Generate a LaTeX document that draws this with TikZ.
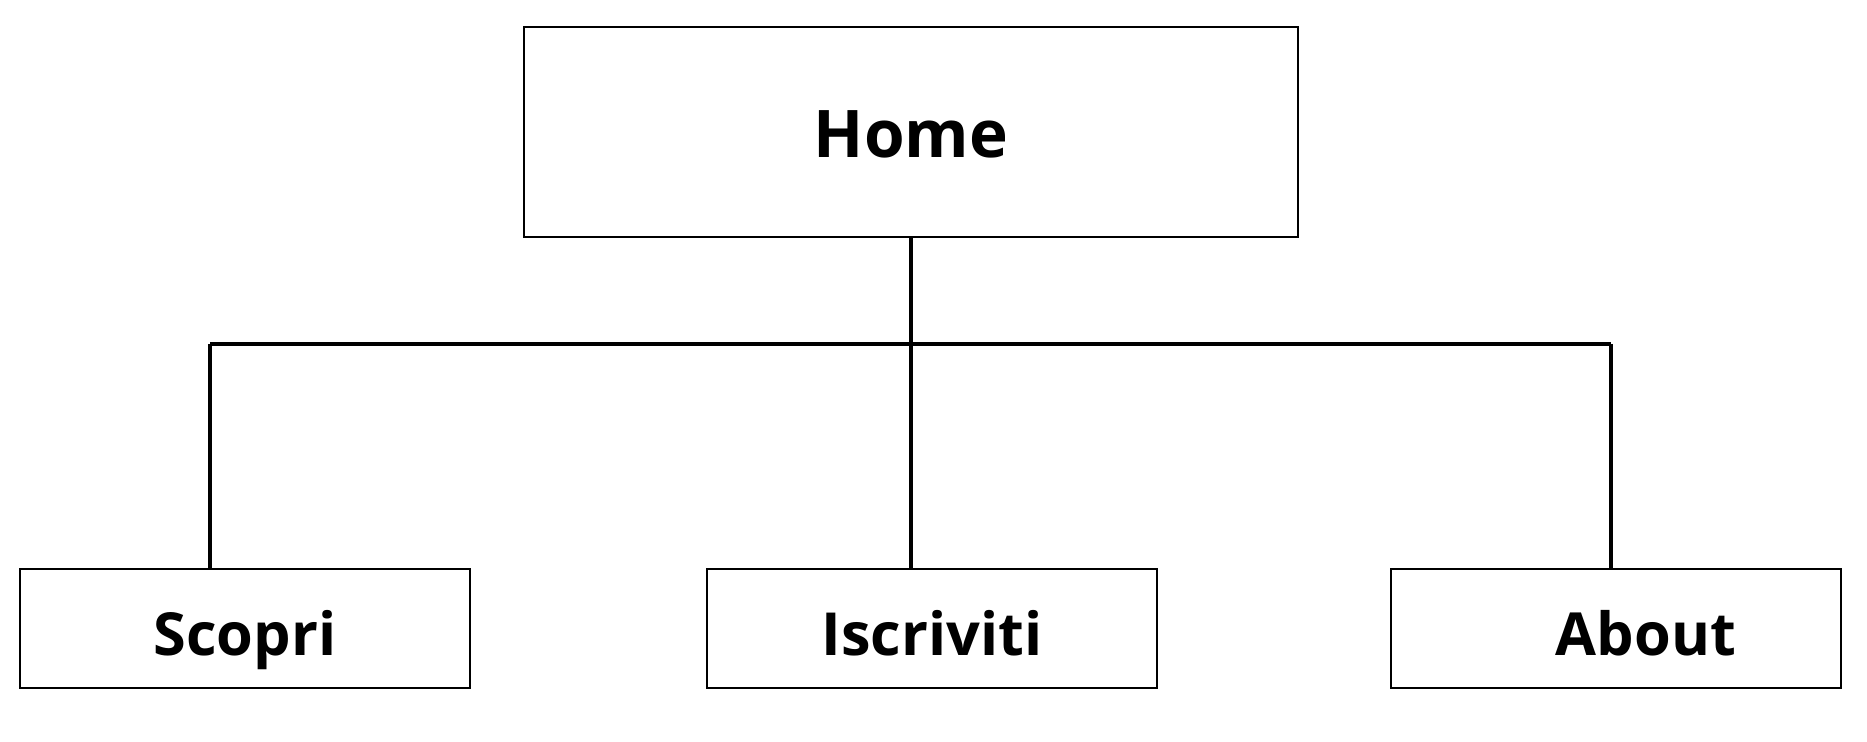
\documentclass[tikz,border=0pt]{standalone}
\usepackage{fontspec}
\setmainfont{Open Sans}
\usetikzlibrary{positioning}

\begin{document}
\begin{tikzpicture}[
    % Stili
    pagebox/.style={
        rectangle, draw, line width=0.6pt,
        minimum width=7.74cm, minimum height=2.1cm,
        text height=0.52cm, text depth=0pt,
        font=\fontsize{18.7}{22}\selectfont\bfseries
    },
    subpage/.style={
        rectangle, draw, line width=0.6pt,
        minimum width=4.5cm, minimum height=1.19cm,
        text height=0.53cm, text depth=0pt,
        font=\fontsize{16.9}{20}\selectfont\bfseries
    },
    link/.style={line width=0.9pt}
]

% Margini
\useasboundingbox (0,0) rectangle (18.67,-7.42);

% Pagina principale
\node[pagebox] (home) at (9.11,-1.32) {Home};

% Sottopagine
\node[subpage] (scopri) at (2.45,-6.285) {Scopri};
\node[subpage] (iscriviti) at (9.32,-6.285) {Iscriviti};
\node[subpage] (about) at (16.16,-6.285) {\hspace*{0.6cm}About};

% Barra di collegamento
\coordinate (bar_left) at (2.10,-3.44);
\coordinate (bar_right) at (16.11,-3.44);

\draw[link] (bar_left) -- (bar_right);
\draw[link] (home.south) -- (home.south |- iscriviti.north);
\draw[link] (bar_left) -- (bar_left |- scopri.north);
\draw[link] (bar_right) -- (bar_right |- about.north);

\end{tikzpicture}
\end{document}
